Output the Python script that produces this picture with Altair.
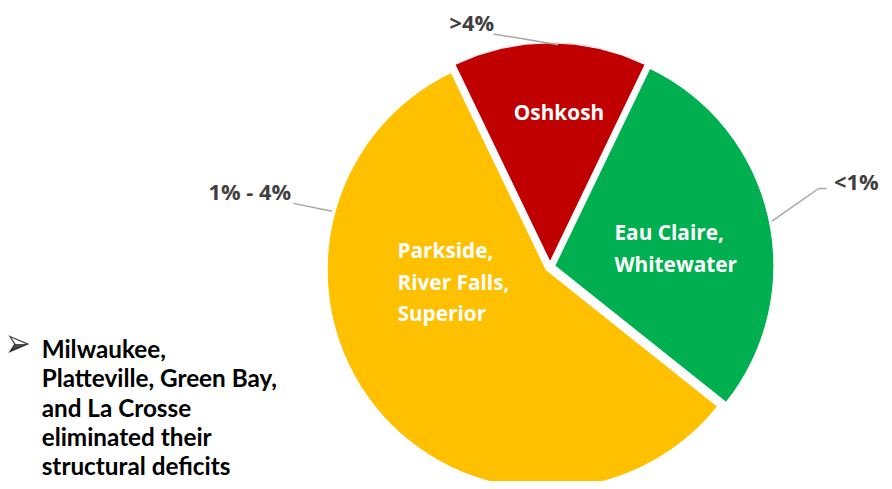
import altair as alt
import pandas as pd
import math

# ---- data ----
groups = ["Oshkosh", "Eau Claire, Whitewater", "Parkside, River Falls, Superior"]
counts = [1, 2, 4]
colors = ["#C00000", "#00B050", "#FFC000"]
range_labels = [">4%", "<1%", "1% - 4%"]
inside_text = [["Oshkosh"], ["Eau Claire,", "Whitewater"], ["Parkside,", "River Falls,", "Superior"]]
note_lines = ["Milwaukee,", "Platteville, Green Bay,", "and La Crosse", "eliminated their", "structural deficits"]

W, H = 876, 473
cx, cy, R = 547, 259, 221
explode = 5
total = sum(counts)
start = -math.pi * counts[0] / total

ends = []
acc = 0
for c in counts:
    ends.append((acc, acc + c))
    acc += c

theta_scale = alt.Scale(domain=[0, total], range=[start, start + 2 * math.pi])

layers = []
for g, col, (a, b) in zip(groups, colors, ends):
    mid = start + 2 * math.pi * (a + b) / 2 / total
    dx = explode * math.sin(mid)
    dy = -explode * math.cos(mid)
    df = pd.DataFrame({"group": [g], "a": [a], "b": [b]})
    layers.append(
        alt.Chart(df).mark_arc(outerRadius=R, color=col, stroke="white", strokeWidth=1).encode(
            theta=alt.Theta("a:Q", scale=theta_scale),
            theta2="b:Q",
            x=alt.value(cx + dx), y=alt.value(cy + dy),
        )
    )

# inside labels (y = centre of first line)
inside_pos = [(556, 105, "center"), (612, 226, "left"), (393, 244, "left")]
for lines, (x, y, al) in zip(inside_text, inside_pos):
    layers.append(
        alt.Chart(pd.DataFrame({"t": ["\n".join(lines)]})).mark_text(
            font="Open Sans", fontWeight="bold", fontSize=21, color="white",
            align=al, baseline="middle", lineBreak="\n", lineHeight=32
        ).encode(text="t:N", x=alt.value(x), y=alt.value(y))
    )

# outside range labels
outside_pos = [(468, 14), (856, 174), (244, 185)]
for lab, (x, y) in zip(range_labels, outside_pos):
    layers.append(
        alt.Chart(pd.DataFrame({"t": [lab]})).mark_text(
            font="Open Sans", fontWeight="bold", fontSize=22, color="#404040",
            align="center", baseline="middle"
        ).encode(text="t:N", x=alt.value(x), y=alt.value(y))
    )

# leader lines
leaders = [((490, 24), (555, 35)), ((288, 195), (327, 203)),
           ((826, 180), (818, 180)), ((818, 180), (771, 213))]
for (x1, y1), (x2, y2) in leaders:
    layers.append(
        alt.Chart(pd.DataFrame({"a": [0]})).mark_rule(color="#A6A6A6", strokeWidth=1.5).encode(
            x=alt.value(x1), y=alt.value(y1), x2=alt.value(x2), y2=alt.value(y2)
        )
    )

# bullet arrowhead (upper half outlined, lower half filled)
bullet = pd.DataFrame({"a": [0]})
layers.append(
    alt.Chart(bullet).mark_point(
        shape="M -1 0.85 L 1 0 L -0.45 0 Z", filled=True, color="black", size=324, strokeWidth=0
    ).encode(x=alt.value(11), y=alt.value(337))
)
layers.append(
    alt.Chart(bullet).mark_point(
        shape="M -1 -0.85 L 1 0 L -1 0.85 L -0.45 0 Z", filled=False, color="black",
        size=324, strokeWidth=1.3, strokeJoin="miter"
    ).encode(x=alt.value(11), y=alt.value(337))
)

layers.append(
    alt.Chart(pd.DataFrame({"t": ["\n".join(note_lines)]})).mark_text(
        font="Lato", fontWeight="bold", fontSize=24.5, color="black",
        align="left", baseline="middle", lineBreak="\n", lineHeight=29.6
    ).encode(text="t:N", x=alt.value(34), y=alt.value(344))
)

chart = alt.layer(*layers).properties(
    width=W, height=H, autosize="none",
    padding={"left": 0, "top": 0, "right": 8, "bottom": 0},
    background="white",
).configure_view(strokeWidth=0, stroke="transparent")

chart.save("out.html", embed_options={"renderer": "svg", "actions": False})
